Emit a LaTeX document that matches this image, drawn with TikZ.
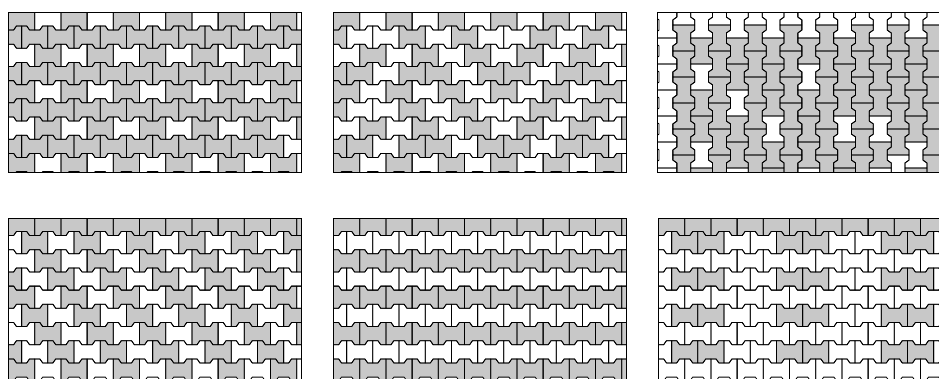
\documentclass[tikz,border=0pt]{standalone}
\definecolor{tilegray}{RGB}{200,200,200}
\colorlet{col0}{white}
\colorlet{col1}{tilegray}
\tikzset{
  edge/.style={draw=black, line width=0.8pt, line join=round},
  frame/.style={draw=black, line width=0.8pt},
}
% horizontal tiles
\def\pw{26.2}\def\ph{18.2}\def\pa{2}\def\pe{6.55}\def\ptr{1.4}
% vertical tiles
\def\vw{17.86}\def\vl{26}\def\ve{6.5}
\newcommand\htile[3]{% options, x0, ytop
\path[#1] ({#2},{#3-\pa}) -- ({#2+\pe-\ptr},{#3-\pa}) -- ({#2+\pe+\ptr},{#3+\pa}) -- ({#2+\pw-\pe-\ptr},{#3+\pa}) -- ({#2+\pw-\pe+\ptr},{#3-\pa}) -- ({#2+\pw},{#3-\pa})
 -- ({#2+\pw},{#3+\ph+\pa}) -- ({#2+\pw-\pe+\ptr},{#3+\ph+\pa}) -- ({#2+\pw-\pe-\ptr},{#3+\ph-\pa}) -- ({#2+\pe+\ptr},{#3+\ph-\pa}) -- ({#2+\pe-\ptr},{#3+\ph+\pa}) -- ({#2},{#3+\ph+\pa}) -- cycle;}
\newcommand\vtile[3]{% options, xleft, y0
\path[#1] ({#2-\pa},{#3}) -- ({#2-\pa},{#3+\ve-\ptr}) -- ({#2+\pa},{#3+\ve+\ptr}) -- ({#2+\pa},{#3+\vl-\ve-\ptr}) -- ({#2-\pa},{#3+\vl-\ve+\ptr}) -- ({#2-\pa},{#3+\vl})
 -- ({#2+\vw+\pa},{#3+\vl}) -- ({#2+\vw+\pa},{#3+\vl-\ve+\ptr}) -- ({#2+\vw-\pa},{#3+\vl-\ve-\ptr}) -- ({#2+\vw-\pa},{#3+\ve+\ptr}) -- ({#2+\vw+\pa},{#3+\ve-\ptr}) -- ({#2+\vw+\pa},{#3}) -- cycle;}
% #1 X0, #2 Ytop, #3 Xright, #4 Ybottom, #5 first row top, #6 pattern
\newcommand\hpanel[6]{%
\begin{scope}
\clip (#1,#2) rectangle (#3,#4);
\foreach \rowv [count=\rr from 0] in #6 {
  \foreach \cv [count=\kk from 0] in \rowv {
    \htile{fill=col\cv}{#1+\kk*\pw-mod(\rr,2)*\pw/2}{#5+\rr*\ph}
  }
}
\foreach \rr in {0,...,8} {\foreach \kk in {0,...,11} {
    \htile{edge}{#1+\kk*\pw-mod(\rr,2)*\pw/2}{#5+\rr*\ph}
}}
\end{scope}
\draw[frame] (#1,#2) rectangle (#3,#4);}
\newcommand\vpanel[6]{%
\begin{scope}
\clip (#1,#2) rectangle (#3,#4);
\foreach \colv [count=\cc from 0] in #6 {
  \foreach \cv [count=\kk from 0] in \colv {
    \vtile{fill=col\cv}{#1+\cc*\vw}{#5+\kk*\vl-mod(\cc,2)*\vl/2}
  }
}
\foreach \cc in {0,...,15} {\foreach \kk in {0,...,6} {
    \vtile{edge}{#1+\cc*\vw}{#5+\kk*\vl-mod(\cc,2)*\vl/2}
}}
\end{scope}
\draw[frame] (#1,#2) rectangle (#3,#4);}

\def\patA{{1,0,1,0,1,0,1,0,1,0,1,0},{1,1,1,1,1,1,1,1,1,1,1,1},{0,1,0,1,0,1,0,1,0,1,0,1},{1,1,1,1,1,1,1,1,1,1,1,1},{1,0,1,0,1,0,1,0,1,0,1,0},{1,1,1,1,1,1,1,1,1,1,1,1},{0,1,0,1,0,1,0,1,0,1,0,1},{1,1,1,1,1,1,1,1,1,1,1,0},{1,0,1,0,1,0,1,0,1,0,1,0}}
\def\patB{{1,0,1,0,1,0,1,0,1,0,1,0},{1,0,0,1,0,1,0,0,1,0,1,0},{0,1,0,1,0,1,0,1,0,1,0,1},{1,1,0,1,1,0,1,1,0,1,1,0},{1,0,1,0,1,0,1,0,1,0,1,0},{1,0,0,1,0,1,0,0,1,0,1,0},{0,1,0,1,0,1,0,1,0,1,0,1},{1,1,0,1,1,0,1,1,0,1,1,0},{1,0,1,0,1,0,1,0,1,0,1,0}}
\def\patC{{0,0,0,0,0,0,0},{0,1,1,1,1,1,1},{0,1,0,1,1,0,1},{0,1,1,1,1,1,1},{0,1,1,0,1,1,0},{0,1,1,1,1,1,1},{0,1,1,1,0,1,1},{0,1,1,1,1,1,1},{0,1,0,1,1,1,0},{0,1,1,1,1,1,1},{0,1,1,1,0,1,1},{0,1,1,1,1,1,1},{0,1,1,1,0,1,0},{0,1,1,1,1,1,0},{0,1,1,1,1,0,1},{0,1,1,1,1,1,1}}
\def\patD{{1,1,1,1,1,1,1,1,1,1,1,1},{0,1,0,1,0,1,0,1,0,1,0,1},{0,1,0,1,0,1,0,1,0,1,0,1},{1,0,1,0,1,0,1,0,1,0,1,0},{1,0,1,0,1,0,1,0,1,0,1,0},{0,1,0,1,0,1,0,1,0,1,0,1},{0,1,0,1,0,1,0,1,0,1,0,1},{1,0,1,0,1,0,1,0,1,0,1,0},{1,0,1,0,1,0,1,0,1,0,1,0}}
\def\patE{{1,1,1,1,1,1,1,1,1,1,1,1},{0,0,0,0,0,0,0,0,0,0,0,0},{1,1,1,1,1,1,1,1,1,1,1,1},{0,0,0,0,0,0,0,0,0,0,0,0},{1,1,1,1,1,1,1,1,1,1,1,1},{0,0,0,0,0,0,0,0,0,0,0,0},{1,1,1,1,1,1,1,1,1,1,1,1},{0,0,0,0,0,0,0,0,0,0,0,0},{1,1,1,1,1,1,1,1,1,1,1,1}}
\def\patF{{1,1,1,1,1,1,1,1,1,1,1,1},{0,1,1,0,0,1,1,0,0,1,1,0},{0,0,0,0,0,0,0,0,0,0,0,0},{0,1,1,0,0,1,1,0,0,1,1,0},{0,0,0,0,0,0,0,0,0,0,0,0},{0,1,1,0,0,1,1,0,0,1,1,0},{0,0,0,0,0,0,0,0,0,0,0,0},{0,1,1,0,0,1,1,0,0,1,1,0},{0,0,0,0,0,0,0,0,0,0,0,0}}

\begin{document}
\begin{tikzpicture}[x=1pt,y=-1pt]
\useasboundingbox[fill=white] (0,0) rectangle (939,378);
\hpanel{8.5}{12}{301.5}{172.5}{9.8}{\patA}
\hpanel{333.5}{12}{626.5}{172.5}{9.8}{\patB}
\vpanel{657}{12}{945}{172.5}{12}{\patC}
\hpanel{8.5}{218.5}{301.5}{382}{215.3}{\patD}
\hpanel{333.5}{218.5}{626.5}{382}{215.3}{\patE}
\hpanel{658.5}{218.5}{945}{382}{215.3}{\patF}
\end{tikzpicture}
\end{document}
